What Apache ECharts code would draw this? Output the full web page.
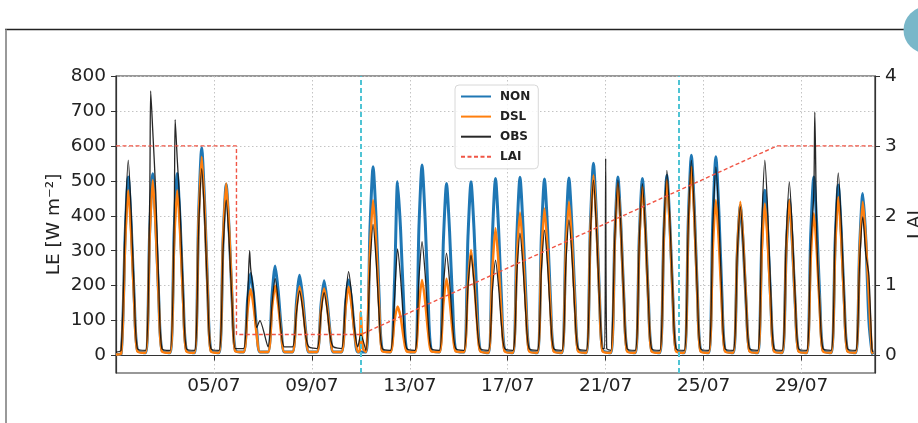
<!DOCTYPE html>
<html><head><meta charset="utf-8">
<script src="https://cdn.jsdelivr.net/npm/echarts@6/dist/echarts.min.js"></script>
<style>html,body{margin:0;padding:0;background:#fff}#c{width:918px;height:423px}</style>
</head><body><div id="c"></div>
<script>
// x values are days since 01/07 00:00; each daily row gives values at these hours
const dayHours = [5, 9, 12, 15, 18, 21];
const nonDaily = [
  [5,347,511,368,153,15],[8,354,520,374,156,15],[8,354,521,375,156,15],[8,405,595,428,179,15],[8,333,490,353,147,15],
  [10,160,235,169,71,10],[10,174,256,184,77,10],[10,156,230,166,69,10],[10,146,214,154,64,10],[10,147,216,156,65,10],
  [10,367,540,389,162,15],[10,210,497,358,149,15],[10,371,545,392,164,15],[10,335,492,354,148,15],[10,338,497,358,149,15],
  [8,345,507,365,152,15],[8,347,510,367,153,15],[8,343,505,364,152,15],[8,345,508,366,152,15],[8,374,550,396,165,15],
  [8,347,511,368,153,15],[8,345,507,365,152,15],[8,351,516,372,155,15],[8,390,573,413,172,15],[8,387,569,410,171,15],
  [8,292,430,310,129,15],[8,322,473,341,142,15],[8,303,445,320,134,15],[8,347,511,368,153,15],[8,332,488,351,146,15],
  [8,316,464,334,100,10]
];
const dslDaily = [
  [5,322,473,341,142,12],[8,341,502,361,151,12],[8,322,473,341,142,12],[8,387,569,410,171,12],[8,335,493,355,148,12],
  [10,129,190,137,57,10],[10,136,200,144,60,10],[10,134,197,142,59,10],[10,131,192,138,58,10],[10,134,197,142,59,10],
  [10,303,445,320,134,12],[10,100,140,110,50,12],[10,147,216,156,65,12],[10,150,220,158,66,12],[10,205,302,217,91,12],
  [8,248,364,262,109,12],[8,278,409,294,123,12],[8,286,421,303,126,12],[8,299,440,317,132,12],[8,351,516,372,155,12],
  [8,335,492,354,148,12],[8,328,483,348,145,12],[8,341,502,361,151,12],[8,367,540,389,162,12],[8,303,445,320,134,12],
  [8,299,440,317,132,12],[8,296,435,313,131,12],[8,303,445,320,134,12],[8,277,407,293,122,12],[8,309,454,327,136,12],
  [8,299,440,330,170,10]
];
const obsDaily = [
  [15,380,559,402,168,20],[15,439,645,464,194,20],[15,384,564,406,169,20],[15,364,535,385,161,20],[15,303,445,320,134,20],
  [20,170,250,180,80,100],[25,150,220,158,66,25],[25,126,185,133,56,25],[20,122,180,130,54,25],[20,163,240,173,72,25],
  [15,255,375,270,113,20],[15,160,305,220,92,20],[15,222,326,235,98,20],[15,199,293,211,88,20],[15,195,287,207,86,20],
  [15,186,273,197,82,20],[15,238,350,252,105,20],[15,244,359,258,108,20],[15,264,388,279,116,20],[15,341,502,361,151,20],
  [15,341,502,361,151,20],[15,335,492,354,148,20],[15,360,530,382,159,20],[15,380,559,402,168,20],[15,367,540,389,162,20],
  [15,290,426,307,128,20],[15,380,559,402,168,20],[15,338,497,358,149,20],[15,316,464,334,139,20],[15,356,523,377,157,20],
  [15,270,397,290,230,20]
];
// extra points: [date, hour, value]
const nonExtra = [[1,0,3],[31,22,3]];
const dslExtra = [[1,0,3],[10,23,15],[11,0,125],[11,2,20],[31,22,5]];
const obsExtra = [[1,0,10],[2,10,757],[3,10,675],[6,11,300],[11,0,60],[20,23,20],[21,0,564],[21,1,20],[29,13,697],[31,22,10]];
const laiDays = [0, 4.92, 4.92, 10, 27, 31];
const laiValues = [3, 3, 0.3, 0.3, 3, 3];
const eventDays = [10, 23];
const xTickDays = [4, 8, 12, 16, 20, 24, 28];
const leTicks = [0, 100, 200, 300, 400, 500, 600, 700, 800];
const laiTicks = [0, 1, 2, 3, 4];

function buildSeries(daily, extra) {
  const pts = [];
  daily.forEach((vals, i) => dayHours.forEach((h, j) => pts.push([i + h / 24, vals[j]])));
  extra.forEach(([d, h, v]) => pts.push([d - 1 + h / 24, v]));
  pts.sort((a, b) => a[0] - b[0]);
  return pts;
}
const pad = n => (n < 10 ? '0' : '') + n;
const FONT = 'DejaVu Sans';
const TXT = '#222';

const chart = echarts.init(document.getElementById('c'), null, {renderer: 'canvas'});
chart.setOption({
  animation: false,
  backgroundColor: '#fff',
  textStyle: {fontFamily: FONT},
  grid: {left: 116, right: 43, top: 76, bottom: 50, outerBoundsMode: 'none', containLabel: false,
    show: true, borderColor: '#333', borderWidth: 1.2, backgroundColor: 'transparent'},
  legend: {
    left: 455, top: 85, orient: 'vertical',
    data: ['NON', 'DSL', 'OBS', 'LAI'],
    itemWidth: 30, itemHeight: 12, itemGap: 8.1,
    padding: [5.5, 8, 6, 5],
    itemStyle: {opacity: 0},
    backgroundColor: 'rgba(255,255,255,0.85)', borderColor: '#d8d8d8', borderWidth: 1, borderRadius: 4,
    textStyle: {fontFamily: FONT, fontSize: 12, fontWeight: 'bold', color: TXT, padding: [0, 0, 0, 4]}
  },
  xAxis: {
    type: 'value', min: 0, max: 31, interval: 4,
    axisLine: {show: true, lineStyle: {color: '#333', width: 1.2}},
    axisTick: {show: true, length: 5, customValues: xTickDays, lineStyle: {color: '#333'}},
    axisLabel: {customValues: xTickDays, fontSize: 18.5, color: TXT, margin: 4, fontFamily: FONT,
      formatter: v => pad(Math.round(v) + 1) + '/07'},
    splitLine: {show: true, lineStyle: {color: '#c4c4c4', type: [1.5, 2.5], width: 1}}
  },
  yAxis: [{
    type: 'value', min: -50, max: 800, splitNumber: 9, position: 'left',
    axisLine: {show: true, lineStyle: {color: '#333', width: 1.2}},
    axisTick: {show: true, length: 5, customValues: leTicks, lineStyle: {color: '#333'}},
    axisLabel: {customValues: leTicks, fontSize: 18.5, color: TXT, margin: 10, fontFamily: FONT},
    splitLine: {show: true, lineStyle: {color: '#c4c4c4', type: [1.5, 2.5], width: 1}},
    name: 'LE [W m⁻²]', nameLocation: 'middle', nameGap: 52, nameMoveOverlap: false,
    nameTextStyle: {fontSize: 18.5, color: TXT, fontFamily: FONT}
  }, {
    type: 'value', min: -0.25, max: 4, position: 'right',
    axisLine: {show: true, lineStyle: {color: '#333', width: 1.2}},
    axisTick: {show: true, length: 5, customValues: laiTicks, lineStyle: {color: '#333'}},
    axisLabel: {customValues: laiTicks, fontSize: 18.5, color: TXT, margin: 10, fontFamily: FONT},
    splitLine: {show: false},
    name: 'LAI', nameLocation: 'middle', nameGap: 31, nameMoveOverlap: false,
    nameTextStyle: {fontSize: 18.5, color: TXT, fontFamily: FONT}
  }],
  series: [{
    name: 'NON', type: 'line', data: buildSeries(nonDaily, nonExtra), symbol: 'none', smooth: 0.25,
    lineStyle: {color: '#1f77b4', width: 3}, itemStyle: {color: '#1f77b4'}, z: 2
  }, {
    name: 'DSL', type: 'line', data: buildSeries(dslDaily, dslExtra), symbol: 'none', smooth: 0.25,
    lineStyle: {color: '#ff7f0e', width: 2.5}, itemStyle: {color: '#ff7f0e'}, z: 3
  }, {
    name: 'OBS', type: 'line', data: buildSeries(obsDaily, obsExtra), symbol: 'none', smooth: 0.25,
    lineStyle: {color: '#111', width: 1.3, opacity: 0.9}, itemStyle: {color: '#333'}, z: 4,
    markLine: {
      silent: true, symbol: 'none', label: {show: false},
      lineStyle: {color: '#4fc4d4', type: [5, 3], width: 2},
      data: eventDays.map(d => ({xAxis: d}))
    }
  }, {
    name: 'LAI', type: 'line', yAxisIndex: 1, data: laiDays.map((d, i) => [d, laiValues[i]]), symbol: 'none',
    lineStyle: {color: '#f05545', width: 1.4, type: [4, 2.5]}, itemStyle: {color: '#f05545'}, z: 5
  }],
  graphic: [
    {type: 'line', silent: true, shape: {x1: 5, y1: 29.5, x2: 910, y2: 29.5}, style: {stroke: '#222', lineWidth: 1.3}},
    {type: 'line', silent: true, shape: {x1: 6, y1: 29.5, x2: 6, y2: 423}, style: {stroke: '#999', lineWidth: 2}},
    {type: 'circle', silent: true, shape: {cx: 927, cy: 30, r: 23.5}, style: {fill: '#79b7c9'}}
  ]
});
</script></body></html>
